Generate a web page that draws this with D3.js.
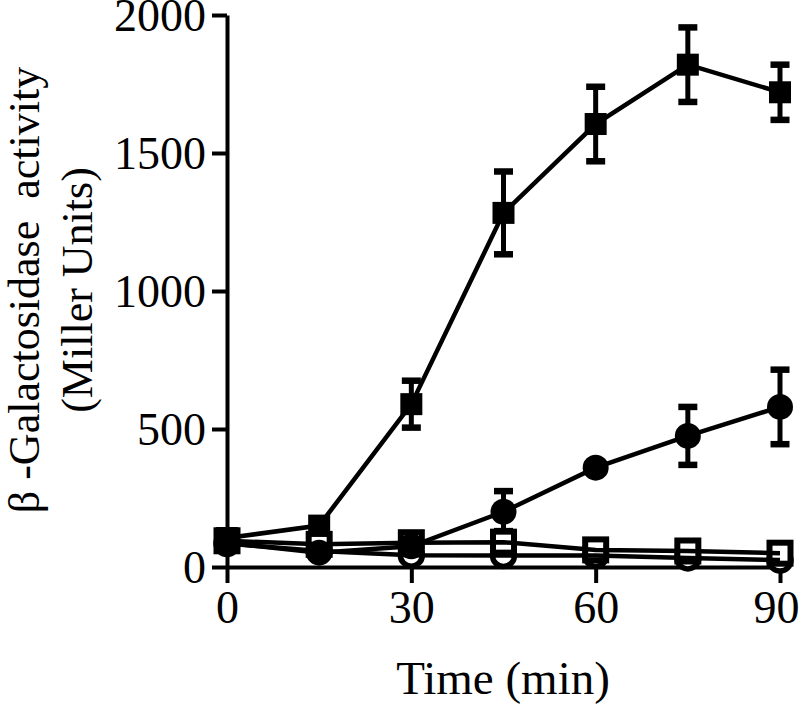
<!DOCTYPE html>
<html>
<head>
<meta charset="utf-8">
<script src="https://cdn.jsdelivr.net/npm/d3@7"></script>
<style>
  body { margin: 0; background: #fff; }
  svg { display: block; }
</style>
</head>
<body>
<svg id="chart" width="800" height="711"></svg>
<script>
// time points (min)
var times = [0, 15, 30, 45, 60, 75, 90];

// filled squares
var sqFilled = [105, 150, 590, 1283, 1605, 1820, 1720];
var sqFilledErr = [0, 0, 85, 150, 135, 135, 100];

// filled circles
var circFilled = [87, 52, 75, 200, 360, 475, 580];
var circFilledErr = [0, 0, 0, 75, 0, 105, 135];

// open squares
var sqOpen = [95, 82, 88, 90, 62, 58, 50];
var sqOpenErr = [0, 0, 0, 40, 0, 0, 0];

// open circles
var circOpen = [85, 58, 43, 42, 42, 33, 25];
var circOpenErr = [0, 0, 0, 0, 0, 0, 0];

var xTicks = [0, 30, 60, 90];
var yTicks = [0, 500, 1000, 1500, 2000];

var svg = d3.select('#chart');
var font = '"Liberation Serif", "Times New Roman", serif';

// scales
var x = d3.scaleLinear().domain([0, 90]).range([227, 780]);
var y = d3.scaleLinear().domain([0, 2000]).range([567, 15]);

// axes
var xAxis = svg.append('g')
    .attr('transform', 'translate(0,' + y(0) + ')')
    .call(d3.axisBottom(x).tickValues(xTicks).tickFormat(d3.format('d'))
        .tickSize(16).tickSizeOuter(0).tickPadding(8));

var yAxis = svg.append('g')
    .attr('transform', 'translate(' + x(0) + ',0)')
    .call(d3.axisLeft(y).tickValues(yTicks).tickFormat(d3.format('d'))
        .tickSize(15).tickSizeOuter(0).tickPadding(6));

[xAxis, yAxis].forEach(function(a) {
    a.selectAll('path, line').attr('stroke', '#000').attr('stroke-width', 4);
    a.selectAll('text').attr('fill', '#000')
        .style('font-family', font).style('font-size', '46px');
});
yAxis.selectAll('text').attr('dy', '0.34em');
xAxis.selectAll('text').attr('dy', '0.69em')
    .attr('dx', function(d) { return d === 90 ? -4 : 0; });

// axis titles
svg.append('text')
    .attr('transform', 'translate(503,694)')
    .attr('text-anchor', 'middle')
    .style('font-family', font).style('font-size', '47px')
    .text('Time (min)');

var yTitle = svg.append('text')
    .attr('transform', 'translate(0,290) rotate(-90)')
    .attr('text-anchor', 'middle')
    .style('font-family', font).style('font-size', '44px')
    .style('white-space', 'pre');
yTitle.append('tspan').attr('x', 0).attr('y', 39).text('\u03b2 -Galactosidase  activity');
yTitle.append('tspan').attr('x', 0).attr('y', 92).text('(Miller Units)');

// series
var series = [
    { vals: circOpen, err: circOpenErr, shape: 'circle', filled: false },
    { vals: sqOpen, err: sqOpenErr, shape: 'square', filled: false },
    { vals: circFilled, err: circFilledErr, shape: 'circle', filled: true },
    { vals: sqFilled, err: sqFilledErr, shape: 'square', filled: true }
];

var line = d3.line()
    .x(function(d) { return x(d.t); })
    .y(function(d) { return y(d.v); });

series.forEach(function(s) {
    s.data = times.map(function(t, i) { return { t: t, v: s.vals[i], e: s.err[i] }; });
});

var errLayer = svg.append('g');
var openLayer = svg.append('g');
var lineLayer = svg.append('g');
var filledLayer = svg.append('g');

function drawMarkers(g, s) {
    var fill = s.filled ? '#000' : '#fff';
    if (s.shape === 'circle') {
        g.selectAll(null).data(s.data).enter().append('circle')
            .attr('cx', function(d) { return x(d.t); })
            .attr('cy', function(d) { return y(d.v); })
            .attr('r', s.filled ? 13 : 11)
            .attr('fill', fill)
            .attr('stroke', '#000').attr('stroke-width', s.filled ? 0 : 5.5);
    } else {
        var sz = s.filled ? 22 : 21;
        g.selectAll(null).data(s.data).enter().append('rect')
            .attr('x', function(d) { return x(d.t) - sz / 2; })
            .attr('y', function(d) { return y(d.v) - sz / 2; })
            .attr('width', sz).attr('height', sz)
            .attr('fill', fill)
            .attr('stroke', '#000').attr('stroke-width', s.filled ? 0 : 6);
    }
}

var capW = 19;
series.forEach(function(s) {
    // error bars
    var eb = errLayer.append('g').selectAll('g')
        .data(s.data.filter(function(d) { return d.e > 0; }))
        .enter().append('g');
    eb.append('line')
        .attr('x1', function(d) { return x(d.t); })
        .attr('x2', function(d) { return x(d.t); })
        .attr('y1', function(d) { return y(d.v + d.e); })
        .attr('y2', function(d) { return y(d.v - d.e); })
        .attr('stroke', '#000').attr('stroke-width', 5);
    [1, -1].forEach(function(sign) {
        eb.append('line')
            .attr('x1', function(d) { return x(d.t) - capW / 2; })
            .attr('x2', function(d) { return x(d.t) + capW / 2; })
            .attr('y1', function(d) { return y(d.v + sign * d.e); })
            .attr('y2', function(d) { return y(d.v + sign * d.e); })
            .attr('stroke', '#000').attr('stroke-width', 6.5);
    });

    // connecting line
    lineLayer.append('path')
        .datum(s.data)
        .attr('d', line)
        .attr('fill', 'none')
        .attr('stroke', '#000')
        .attr('stroke-width', 4.5);

    drawMarkers(s.filled ? filledLayer.append('g') : openLayer.append('g'), s);
});
</script>
</body>
</html>
